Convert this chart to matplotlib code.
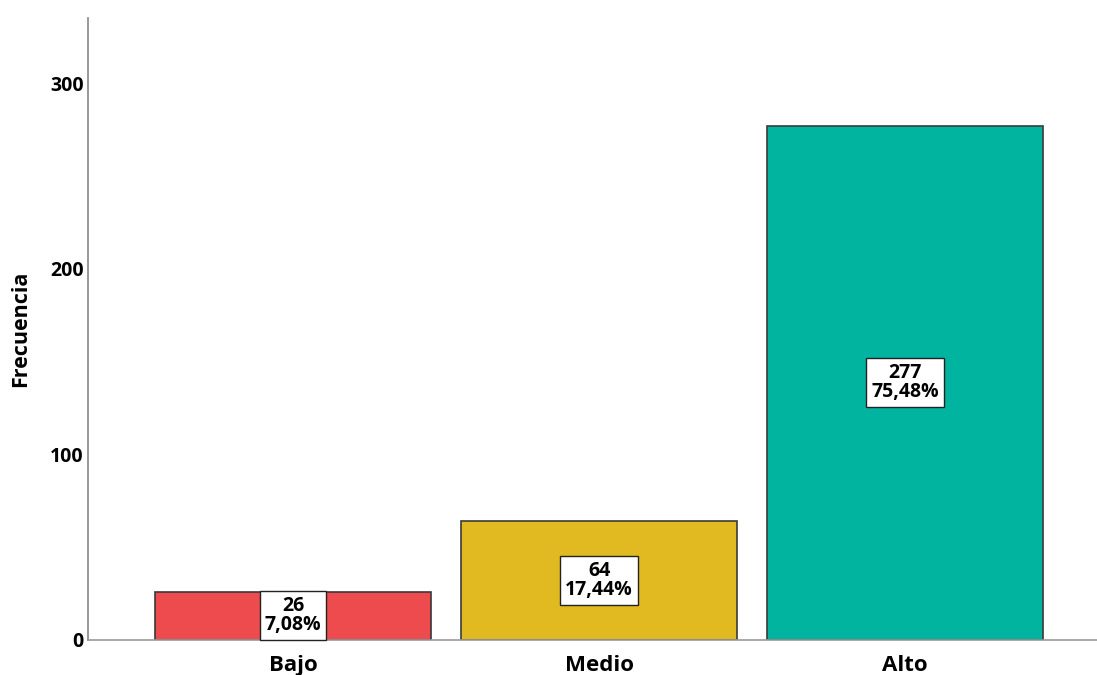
import numpy as np
import matplotlib.pyplot as plt

# data
categories = ['Bajo', 'Medio', 'Alto']
counts = [26, 64, 277]
percents = ['7,08%', '17,44%', '75,48%']
colors = ['#ED4B4D', '#E0BA20', '#00B4A0']

plt.rcParams['font.family'] = ['Open Sans', 'DejaVu Sans']

fig = plt.figure(figsize=(10.97, 6.75), dpi=100)
ax = fig.add_axes([0.0802, 0.0519, 0.9198, 0.9214])

x = np.arange(len(categories))
ax.bar(x, counts, width=0.902, color=colors, edgecolor='#3a3a3a', linewidth=1.2, zorder=2)

# labels inside the bars
for xi, c, p in zip(x, counts, percents):
    ax.text(xi, c / 2, f'{c}\n{p}', ha='center', va='center', fontsize=14,
            fontweight='bold', linespacing=0.95, zorder=3,
            bbox=dict(boxstyle='square,pad=0.25', facecolor='white', edgecolor='#222222', linewidth=1))

ax.set_xlim(-0.67, 2.627)
ax.set_ylim(0, 335)
ax.set_yticks([0, 100, 200, 300])
ax.set_xticks(x)
ax.set_xticklabels(categories, fontsize=16, fontweight='bold')
ax.tick_params(axis='y', length=0, labelsize=14, pad=3)
ax.tick_params(axis='x', length=0, pad=11)
for lab in ax.get_yticklabels():
    lab.set_fontweight('bold')

ax.spines['top'].set_visible(False)
ax.spines['right'].set_visible(False)
ax.spines['left'].set_color('#888888')
ax.spines['bottom'].set_color('#999999')
ax.spines['left'].set_linewidth(1.2)
ax.spines['bottom'].set_linewidth(1.2)

ax.set_ylabel('Frecuencia', fontsize=15.5, fontweight='bold')
ax.yaxis.set_label_coords(-0.056, 0.5)

plt.savefig('out.png', dpi=100)
